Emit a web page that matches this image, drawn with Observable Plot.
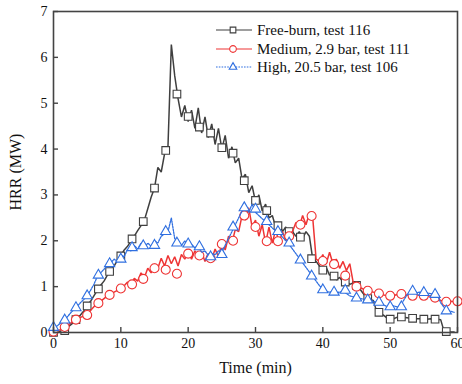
<!DOCTYPE html>
<html><head><meta charset="utf-8">
<script src="https://cdn.jsdelivr.net/npm/d3@7"></script>
<script src="https://cdn.jsdelivr.net/npm/@observablehq/plot@0.6"></script>
<style>
body{margin:0;background:#fff;}
#wrap{position:relative;width:462px;height:384px;overflow:hidden;background:#fff;}
#wrap svg text{font-family:"Liberation Serif","Times New Roman",serif !important;font-weight:normal !important;}
#legend{position:absolute;left:214px;top:21px;font-family:"Liberation Serif","Times New Roman",serif;font-size:15px;color:#111;line-height:18.5px;}
#legend .row{display:flex;align-items:center;height:18.5px;white-space:nowrap;}
#legend svg{margin-right:5px;}
</style></head><body><div id="wrap"></div>
<script>
// time step of the sampled series (min)
const step = 0.5;
const markerStep = 5 / 3;

const seriesNames = ["Free-burn, test 116", "Medium, 2.9 bar, test 111", "High, 20.5 bar, test 106"];

const freeBurn = [
  0, 0, 0.02, 0.05, 0.1, 0.16, 0.22, 0.3, 0.38, 0.47,
  0.58, 0.68, 0.8, 0.92, 1.03, 1.12, 1.25, 1.36, 1.45, 1.58,
  1.67, 1.8, 1.88, 2.0, 2.1, 2.22, 2.33, 2.45, 2.7, 2.95,
  3.15, 3.6, 3.5, 3.9, 4.05, 6.28, 5.6, 5.1, 4.7, 4.95,
  4.6, 4.85, 4.45, 4.9, 4.35, 4.7, 4.25, 4.55, 4.1, 4.45,
  4.0, 4.3, 3.8, 4.05, 3.7, 3.8, 3.35, 3.45, 3.05, 3.2,
  2.85, 3.0, 2.65, 2.8, 2.5, 2.55, 2.3, 2.4, 2.2, 2.3,
  2.15, 2.2, 2.1, 2.2, 2.05, 2.2, 2.1, 1.6, 1.55, 1.45,
  1.35, 1.42, 1.25, 1.3, 1.15, 1.2, 1.1, 1.12, 1.05, 1.08,
  1.02, 0.95, 0.85, 0.76, 0.72, 0.7, 0.45, 0.42, 0.38, 0.32,
  0.3, 0.3, 0.33, 0.34, 0.33, 0.32, 0.31, 0.31, 0.3, 0.3,
  0.29, 0.29, 0.3, 0.29, 0.29, 0.28, 0.03, 0.02, 0.01, 0.01
];
const medium = [
  0.02, 0.03, 0.06, 0.1, 0.15, 0.2, 0.25, 0.3, 0.33, 0.36,
  0.4, 0.48, 0.56, 0.63, 0.68, 0.74, 0.8, 0.85, 0.88, 0.92,
  0.98, 1.02, 1.1, 1.05, 1.18, 1.12, 1.3, 1.2, 1.4, 1.3,
  1.5, 1.4, 1.62, 1.45, 1.68, 1.5, 1.65, 1.45, 1.7, 1.6,
  1.75, 1.6, 1.78, 1.62, 1.75, 1.55, 1.72, 1.6, 1.82, 1.65,
  1.95, 1.8, 2.1, 1.95, 2.25, 2.2, 2.55, 2.45, 2.72, 2.3,
  2.45, 2.1, 2.35, 1.95, 2.3, 1.95, 2.25, 1.95, 2.2, 2.0,
  2.15, 2.2, 2.4, 2.3, 2.55, 2.35, 2.6, 2.5, 1.6, 1.55,
  1.7, 1.5, 1.75, 1.5, 1.6, 1.4, 1.55, 1.35, 1.5, 1.1,
  1.05, 0.98, 0.95, 0.92, 0.9, 0.88, 0.86, 0.84, 0.82, 0.8,
  0.82, 0.8, 0.83, 0.82, 0.8, 0.82, 0.8, 0.8, 0.82, 0.8,
  0.81, 0.79, 0.8, 0.77, 0.74, 0.7, 0.68, 0.67, 0.68, 0.67,
  0.68
];
const high = [
  0.1, 0.14, 0.2, 0.27, 0.33, 0.42, 0.5, 0.56, 0.65, 0.72,
  0.8, 0.92, 1.05, 1.22, 1.3, 1.38, 1.45, 1.52, 1.6, 1.55,
  1.7, 1.65, 1.82, 1.78, 1.9, 1.82, 1.95, 1.85, 1.95, 1.88,
  2.0, 1.95, 2.1, 2.15, 2.2, 2.5, 2.05, 1.95, 1.9, 2.0,
  1.88, 1.92, 1.85, 1.9, 1.75, 1.78, 1.68, 1.72, 1.7, 1.78,
  1.75, 1.9, 2.05, 2.2, 2.35, 2.5, 2.65, 2.75, 2.62, 2.8,
  2.62, 2.55, 2.48, 2.42, 2.35, 2.28, 2.22, 2.18, 2.08, 2.0,
  1.92, 1.82, 1.72, 1.62, 1.52, 1.42, 1.32, 1.22, 1.12, 1.02,
  0.95, 0.9, 0.88, 0.9, 0.87, 0.88, 0.9, 0.85, 0.8, 0.78,
  0.76, 0.74, 0.73, 0.72, 0.7, 0.68, 0.66, 0.65, 0.6, 0.57,
  0.56, 0.58, 0.56, 0.57, 0.7, 0.82, 0.88, 0.9, 0.87, 0.88,
  0.87, 0.86, 0.85, 0.84, 0.82, 0.65, 0.55, 0.48, 0.46, 0.44
];

// marker values every 100 s (5/3 min)
const freeBurnMarks = [0, 0.04, 0.28, 0.58, 0.95, 1.33, 1.67, 2.04, 2.42, 3.15,
  3.97, 5.2, 4.71, 4.48, 4.35, 4.03, 3.91, 3.31, 2.88, 2.66,
  2.33, 2.2, 2.08, 1.61, 1.36, 1.23, 1.1, 1.03, 0.74, 0.44,
  0.29, 0.34, 0.31, 0.29, 0.29, 0.02];
const mediumMarks = [0.02, 0.12, 0.28, 0.38, 0.64, 0.82, 0.96, 1.05, 1.17, 1.4,
  1.37, 1.28, 1.72, 1.68, 1.62, 1.93, 2.0, 2.55, 2.3, 1.99,
  1.99, 2.1, 2.35, 2.54, 1.56, 1.49, 1.24, 1.0, 0.91, 0.85,
  0.8, 0.84, 0.8, 0.8, 0.76, 0.67, 0.68];
const highMarks = [0.11, 0.27, 0.54, 0.8, 1.25, 1.5, 1.6, 1.85, 1.89, 1.9,
  2.2, 1.95, 1.93, 1.87, 1.65, 1.7, 2.3, 2.72, 2.69, 2.42,
  2.2, 1.95, 1.58, 1.23, 0.93, 0.88, 0.92, 0.75, 0.71, 0.66,
  0.56, 0.56, 0.9, 0.87, 0.83, 0.47];

const xTicks = [0, 10, 20, 30, 40, 50, 60];
const yTicks = [0, 1, 2, 3, 4, 5, 6, 7];

const colors = ["#3f3f3f", "#ee3434", "#2f6fe0"];
const symbols = ["square", "circle", "triangle"];
const radii = [4.3, 4.5, 3.8];
const widths = [1.5, 1.5, 1.3];
const dashes = [null, null, "1.6,1.2"];

const toRows = (arr, dt) => arr.map((v, i) => ({t: i * dt, v}));
const lines = [freeBurn, medium, high].map(a => toRows(a, step));
const marks = [freeBurnMarks, mediumMarks, highMarks].map(a => toRows(a, markerStep));

const font = "Liberation Serif, Times New Roman, serif";
const seriesMarks = [];
for (let s = 0; s < 3; s++) {
  seriesMarks.push(Plot.line(lines[s], {x: "t", y: "v", stroke: colors[s], strokeWidth: widths[s], strokeDasharray: dashes[s], strokeLinejoin: "miter"}));
  seriesMarks.push(Plot.dot(marks[s], {x: "t", y: "v", symbol: () => symbols[s], r: radii[s], stroke: colors[s], fill: "white", strokeWidth: 1.1}));
}

const chart = Plot.plot({
  width: 462,
  height: 384,
  marginLeft: 53,
  marginRight: 5,
  marginTop: 11,
  marginBottom: 52,
  style: {"font-family": font, "font-size": "14px", color: "#111", background: "white"},
  x: {domain: [0, 60]},
  y: {domain: [0, 7]},
  marks: [
    ...seriesMarks,
    Plot.frame({stroke: "#444", strokeWidth: 1.6}),
    Plot.axisX(xTicks, {tickSize: -5, tickPadding: 11, stroke: "#444", strokeWidth: 1.4, fontSize: 14, fontFamily: font, label: "Time (min)", labelAnchor: "center", labelArrow: "none", labelOffset: 40}),
    Plot.axisY(yTicks, {tickSize: -5, tickPadding: 11, stroke: "#444", strokeWidth: 1.4, fontSize: 14, fontFamily: font, label: "HRR (MW)", labelAnchor: "center", labelArrow: "none", labelOffset: 44})
  ]
});
chart.setAttribute("font-family", font);
chart.querySelectorAll("g").forEach(g => { if (g.hasAttribute("font-family")) g.setAttribute("font-family", font); });
chart.querySelectorAll("text").forEach(t => { t.style.fontFamily = font; t.style.fontWeight = "normal"; });
chart.querySelectorAll("g[aria-label='x-axis label'] text, g[aria-label='y-axis label'] text").forEach(t => {
  t.style.fontSize = "16px";
});

const wrap = document.getElementById("wrap");
wrap.appendChild(chart);

// legend
const legend = document.createElement("div");
legend.id = "legend";
seriesNames.forEach((name, s) => {
  const row = document.createElement("div");
  row.className = "row";
  const svg = d3.create("svg").attr("width", 38).attr("height", 14);
  svg.append("line").attr("x1", 2).attr("x2", 38).attr("y1", 7).attr("y2", 7)
    .attr("stroke", colors[s]).attr("stroke-width", 1.2).attr("stroke-dasharray", dashes[s]);
  const sym = {square: d3.symbolSquare, circle: d3.symbolCircle, triangle: d3.symbolTriangle}[symbols[s]];
  svg.append("path").attr("transform", "translate(19,7)")
    .attr("d", d3.symbol(sym, Math.PI * radii[s] * radii[s] * 0.55)())
    .attr("fill", "white").attr("stroke", colors[s]).attr("stroke-width", 1.1);
  row.appendChild(svg.node());
  const span = document.createElement("span");
  span.textContent = name;
  row.appendChild(span);
  legend.appendChild(row);
});
wrap.appendChild(legend);
</script>
</body></html>
